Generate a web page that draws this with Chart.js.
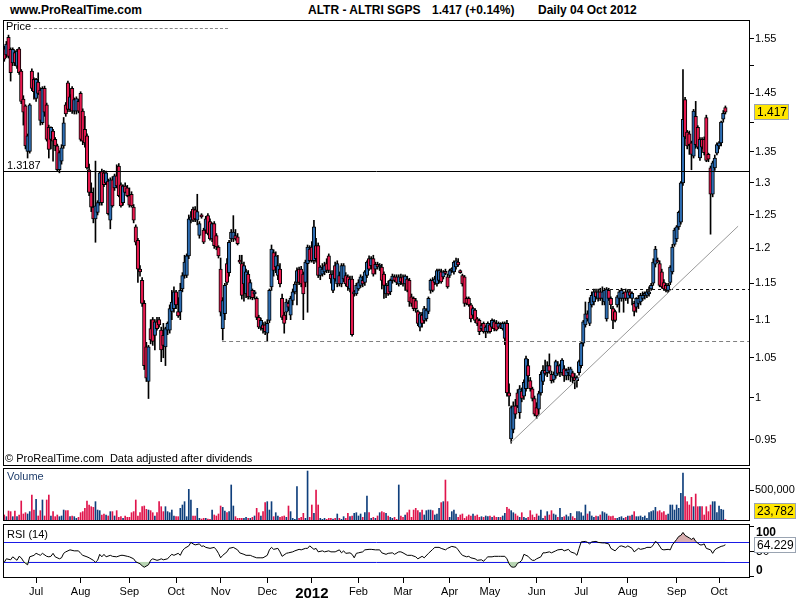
<!DOCTYPE html>
<html><head><meta charset="utf-8">
<script src="https://cdn.jsdelivr.net/npm/chart.js@4.4.0/dist/chart.umd.min.js"></script>
<style>
html,body{margin:0;padding:0;background:#fff;}
#wrap{position:relative;width:800px;height:600px;overflow:hidden;font-family:"Liberation Sans",Arial,sans-serif;}
canvas{position:absolute;left:0;}
.t{position:absolute;white-space:pre;font-size:11px;line-height:13px;color:#000;}
.b{font-weight:bold;font-size:12px;line-height:14px;}
</style></head><body>
<div id="wrap">
<canvas id="cp" width="800" height="446" style="top:20px"></canvas>
<canvas id="cv" width="800" height="53" style="top:468px"></canvas>
<canvas id="cr" width="800" height="76" style="top:524px"></canvas>
<div class="t b" style="left:10px;top:3px">www.ProRealTime.com</div>
<div class="t b" style="left:308px;top:3px" id="tName"></div>
<div class="t b" style="left:432px;top:3px" id="tLast"></div>
<div class="t b" style="left:538px;top:3px" id="tDate"></div>
<div class="t" style="left:6px;top:20px">Price</div>
<div style="position:absolute;left:34px;top:28px;width:194px;border-top:1px dashed #8a8a8a"></div>
<div class="t" style="left:7px;top:159px" id="tSupport"></div>
<div class="t" style="left:5px;top:452px">© ProRealTime.com  Data adjusted after dividends</div>
<div class="t" style="left:7px;top:470px;color:#1f3d6b">Volume</div>
<div class="t" style="left:7px;top:528px">RSI (14)</div>
</div>
<script>
// ---------- DATA ----------
const instrumentName = 'ALTR - ALTRI SGPS';
const periodLabel = 'Daily 04 Oct 2012';
const monthLabels = ['Jul','Aug','Sep','Oct','Nov','Dec','2012','Feb','Mar','Apr','May','Jun','Jul','Aug','Sep','Oct'];
const monthStartBar = [15,36,59,81,102,124,145,167,188,210,229,251,272,294,317,337];
const priceTicks = [0.95,1,1.05,1.1,1.15,1.2,1.25,1.3,1.35,1.4,1.45,1.5,1.55];
const priceTicksUnlabeled = [1.4,1.5];
const volumeTicks = [500000];
const rsiTicks = [0,50,100];
const rsiTickLabels = ['0','50','100'];
const rsiBands = [70,30];
const supportLevel = 1.3187;
const dashedLevelLow = 1.072, dashedLowStartBar = 102.7;
const dashedLevelHigh = 1.142, dashedHighStartBar = 274.3;
const trendStart = [238.5, 0.946], trendEnd = [346, 1.233];

const opens = [
1.531,1.520,1.553,1.530,1.505,1.524,1.499,1.531,1.490,1.440,
1.428,1.351,1.351,1.490,1.475,1.441,1.470,1.456,1.399,1.459,
1.430,1.391,1.371,1.385,1.371,1.360,1.321,1.335,1.360,1.430,
1.469,1.422,1.459,1.419,1.419,1.436,1.450,1.419,1.388,1.377,
1.321,1.285,1.262,1.244,1.254,1.269,1.318,1.316,1.300,1.303,
1.242,1.305,1.292,1.311,1.327,1.297,1.269,1.295,1.292,1.280,
1.282,1.262,1.232,1.212,1.170,1.154,1.122,1.064,1.020,1.088,
1.100,1.079,1.097,1.100,1.086,1.079,1.064,1.086,1.086,1.111,
1.115,1.138,1.111,1.110,1.142,1.161,1.161,1.189,1.242,1.259,
1.258,1.242,1.219,1.250,1.227,1.227,1.249,1.240,1.214,1.237,
1.219,1.202,1.170,1.088,1.108,1.178,1.165,1.214,1.214,1.219,
1.217,1.181,1.178,1.149,1.135,1.163,1.131,1.140,1.135,1.129,
1.103,1.090,1.093,1.093,1.082,1.099,1.145,1.194,1.173,1.161,
1.170,1.129,1.106,1.110,1.122,1.106,1.126,1.138,1.151,1.170,
1.170,1.163,1.151,1.178,1.199,1.202,1.182,1.204,1.204,1.161,
1.163,1.166,1.178,1.189,1.163,1.140,1.175,1.149,1.161,1.149,
1.156,1.161,1.159,1.142,1.156,1.135,1.135,1.142,1.147,1.154,
1.151,1.161,1.185,1.175,1.185,1.170,1.177,1.173,1.173,1.163,
1.135,1.147,1.138,1.154,1.159,1.159,1.149,1.158,1.159,1.149,
1.156,1.154,1.131,1.129,1.126,1.111,1.090,1.106,1.099,1.101,
1.111,1.140,1.154,1.151,1.149,1.154,1.166,1.159,1.166,1.159,
1.161,1.168,1.166,1.173,1.180,1.167,1.161,1.159,1.129,1.129,
1.120,1.106,1.113,1.101,1.099,1.088,1.095,1.084,1.084,1.093,
1.090,1.097,1.095,1.090,1.093,1.088,1.075,1.095,1.006,0.951,
0.962,0.990,1.006,0.982,1.008,1.002,1.011,1.040,1.021,1.011,
0.999,0.988,0.986,1.006,1.020,1.034,1.031,1.040,1.029,1.022,
1.027,1.040,1.031,1.031,1.036,1.027,1.031,1.027,1.031,1.025,
1.021,1.031,1.040,1.069,1.093,1.108,1.095,1.120,1.124,1.138,
1.129,1.138,1.129,1.124,1.101,1.140,1.129,1.115,1.111,1.120,
1.129,1.129,1.129,1.138,1.129,1.138,1.129,1.122,1.117,1.122,
1.124,1.129,1.133,1.133,1.135,1.142,1.150,1.177,1.182,1.178,
1.166,1.151,1.147,1.140,1.151,1.166,1.206,1.214,1.232,1.239,
1.300,1.439,1.383,1.380,1.365,1.343,1.410,1.391,1.340,1.371,
1.371,1.408,1.346,1.324,1.282,1.324,1.348,1.360,1.365,1.405,
1.425];
const highs = [
1.536,1.545,1.557,1.533,1.533,1.528,1.530,1.534,1.493,1.446,
1.430,1.380,1.432,1.494,1.478,1.477,1.487,1.460,1.462,1.463,
1.433,1.395,1.392,1.388,1.374,1.363,1.352,1.362,1.408,1.434,
1.472,1.448,1.462,1.442,1.444,1.440,1.453,1.423,1.410,1.380,
1.330,1.300,1.292,1.335,1.272,1.318,1.322,1.320,1.319,1.306,
1.308,1.310,1.314,1.329,1.331,1.300,1.297,1.300,1.296,1.292,
1.286,1.266,1.235,1.215,1.175,1.158,1.126,1.070,1.066,1.100,
1.103,1.100,1.103,1.103,1.090,1.095,1.090,1.097,1.120,1.140,
1.145,1.140,1.130,1.150,1.165,1.190,1.192,1.250,1.255,1.262,
1.263,1.282,1.240,1.252,1.230,1.248,1.252,1.244,1.238,1.240,
1.222,1.204,1.186,1.130,1.150,1.185,1.212,1.228,1.249,1.228,
1.222,1.190,1.190,1.180,1.170,1.168,1.155,1.142,1.140,1.131,
1.106,1.102,1.096,1.097,1.100,1.142,1.205,1.198,1.195,1.190,
1.178,1.135,1.110,1.128,1.126,1.132,1.142,1.152,1.172,1.173,
1.174,1.166,1.183,1.205,1.204,1.210,1.242,1.215,1.208,1.175,
1.178,1.180,1.185,1.192,1.168,1.168,1.180,1.182,1.166,1.178,
1.178,1.165,1.162,1.160,1.160,1.140,1.150,1.155,1.162,1.160,
1.168,1.182,1.189,1.188,1.190,1.180,1.180,1.178,1.177,1.166,
1.150,1.153,1.156,1.163,1.162,1.162,1.162,1.163,1.162,1.162,
1.160,1.157,1.135,1.131,1.129,1.113,1.110,1.110,1.118,1.115,
1.131,1.156,1.158,1.160,1.170,1.170,1.170,1.168,1.170,1.163,
1.170,1.172,1.182,1.186,1.185,1.169,1.163,1.161,1.131,1.131,
1.122,1.117,1.115,1.103,1.101,1.095,1.097,1.092,1.097,1.095,
1.101,1.100,1.099,1.097,1.096,1.097,1.097,1.099,1.017,0.990,
0.995,0.998,1.010,1.015,1.012,1.022,1.052,1.048,1.025,1.013,
1.002,0.994,1.008,1.032,1.040,1.047,1.045,1.055,1.033,1.032,
1.047,1.045,1.042,1.049,1.040,1.036,1.038,1.038,1.033,1.030,
1.027,1.047,1.071,1.099,1.124,1.112,1.130,1.138,1.142,1.142,
1.142,1.143,1.145,1.143,1.144,1.143,1.131,1.118,1.113,1.133,
1.140,1.143,1.138,1.142,1.141,1.141,1.138,1.125,1.130,1.133,
1.136,1.138,1.138,1.140,1.145,1.150,1.185,1.203,1.186,1.182,
1.170,1.155,1.150,1.150,1.175,1.206,1.230,1.234,1.256,1.302,
1.493,1.443,1.386,1.385,1.368,1.422,1.436,1.394,1.374,1.374,
1.375,1.412,1.348,1.327,1.335,1.345,1.365,1.367,1.402,1.420,
1.428];
const lows = [
1.508,1.515,1.514,1.472,1.500,1.500,1.495,1.484,1.432,1.395,
1.355,1.340,1.348,1.455,1.440,1.436,1.448,1.395,1.396,1.410,
1.368,1.340,1.355,1.335,1.352,1.318,1.316,1.330,1.356,1.410,
1.418,1.418,1.415,1.414,1.414,1.416,1.368,1.362,1.358,1.322,
1.280,1.255,1.238,1.209,1.250,1.265,1.265,1.294,1.297,1.250,
1.229,1.262,1.288,1.292,1.278,1.262,1.265,1.284,1.278,1.262,
1.262,1.238,1.205,1.151,1.160,1.118,1.035,1.020,0.999,1.068,
1.066,1.060,1.086,1.090,1.045,1.050,1.040,1.080,1.082,1.100,
1.110,1.115,1.103,1.100,1.138,1.157,1.158,1.185,1.238,1.240,
1.240,1.235,1.215,1.245,1.207,1.222,1.220,1.212,1.210,1.200,
1.198,1.186,1.105,1.073,1.100,1.148,1.160,1.210,1.210,1.212,
1.205,1.178,1.128,1.125,1.130,1.128,1.128,1.127,1.128,1.100,
1.088,1.086,1.082,1.080,1.071,1.096,1.140,1.160,1.165,1.155,
1.145,1.100,1.082,1.100,1.112,1.100,1.120,1.135,1.120,1.148,
1.145,1.100,1.145,1.110,1.180,1.180,1.178,1.180,1.158,1.155,
1.160,1.162,1.165,1.165,1.150,1.137,1.153,1.145,1.146,1.145,
1.152,1.146,1.140,1.138,1.078,1.132,1.133,1.140,1.144,1.145,
1.147,1.158,1.168,1.170,1.160,1.163,1.170,1.168,1.142,1.129,
1.130,1.133,1.134,1.150,1.152,1.148,1.146,1.148,1.146,1.140,
1.138,1.118,1.118,1.112,1.110,1.092,1.085,1.090,1.095,1.098,
1.108,1.136,1.138,1.148,1.146,1.150,1.150,1.156,1.162,1.143,
1.158,1.165,1.163,1.170,1.174,1.164,1.146,1.118,1.120,1.118,
1.097,1.103,1.096,1.092,1.080,1.085,1.082,1.076,1.082,1.082,
1.088,1.085,1.085,1.088,1.088,1.086,1.067,1.002,0.990,0.946,
0.958,0.975,0.988,0.975,0.995,0.998,1.008,1.020,1.008,0.996,
0.978,0.975,0.980,1.003,1.016,1.028,1.026,1.030,1.018,1.019,
1.024,1.028,1.026,1.028,1.020,1.022,1.022,1.020,1.018,1.011,
1.013,1.028,1.037,1.065,1.090,1.098,1.092,1.117,1.120,1.128,
1.125,1.126,1.120,1.120,1.098,1.126,1.115,1.088,1.097,1.117,
1.110,1.125,1.110,1.126,1.122,1.130,1.120,1.105,1.110,1.115,
1.120,1.126,1.128,1.130,1.132,1.140,1.147,1.173,1.179,1.145,
1.143,1.140,1.138,1.137,1.148,1.163,1.203,1.210,1.228,1.236,
1.296,1.372,1.355,1.346,1.321,1.340,1.356,1.355,1.336,1.355,
1.345,1.334,1.334,1.221,1.278,1.320,1.345,1.355,1.360,1.400,
1.414];
const closes = [
1.512,1.540,1.517,1.487,1.530,1.505,1.527,1.487,1.436,1.417,
1.360,1.377,1.430,1.459,1.453,1.475,1.450,1.403,1.459,1.417,
1.371,1.354,1.391,1.368,1.360,1.321,1.349,1.357,1.399,1.414,
1.422,1.444,1.419,1.439,1.441,1.419,1.371,1.368,1.365,1.324,
1.285,1.262,1.244,1.264,1.269,1.316,1.269,1.297,1.316,1.252,
1.305,1.264,1.311,1.295,1.280,1.264,1.295,1.285,1.280,1.265,
1.264,1.242,1.209,1.170,1.166,1.122,1.040,1.024,1.064,1.073,
1.071,1.097,1.088,1.093,1.060,1.066,1.088,1.095,1.115,1.124,
1.138,1.120,1.105,1.140,1.161,1.180,1.189,1.244,1.247,1.242,
1.244,1.255,1.237,1.247,1.209,1.244,1.222,1.214,1.237,1.204,
1.202,1.189,1.110,1.126,1.147,1.151,1.209,1.224,1.224,1.214,
1.207,1.180,1.133,1.175,1.166,1.131,1.151,1.130,1.138,1.103,
1.090,1.099,1.088,1.084,1.095,1.140,1.199,1.168,1.189,1.175,
1.149,1.103,1.095,1.124,1.117,1.129,1.138,1.149,1.168,1.151,
1.149,1.135,1.180,1.202,1.182,1.182,1.232,1.185,1.161,1.173,
1.170,1.175,1.168,1.168,1.156,1.163,1.156,1.178,1.149,1.175,
1.175,1.149,1.145,1.156,1.080,1.138,1.147,1.151,1.159,1.149,
1.166,1.180,1.170,1.185,1.163,1.177,1.173,1.175,1.154,1.147,
1.147,1.135,1.154,1.160,1.154,1.151,1.159,1.152,1.149,1.160,
1.140,1.124,1.122,1.115,1.115,1.095,1.108,1.095,1.115,1.113,
1.129,1.154,1.140,1.156,1.168,1.168,1.152,1.166,1.164,1.145,
1.168,1.170,1.180,1.182,1.176,1.165,1.149,1.122,1.122,1.120,
1.101,1.115,1.099,1.095,1.084,1.092,1.084,1.090,1.095,1.084,
1.099,1.088,1.086,1.095,1.090,1.095,1.095,1.006,1.002,0.988,
0.990,0.980,0.990,1.011,0.999,1.019,1.049,1.027,1.011,0.999,
0.980,0.978,1.005,1.029,1.034,1.030,1.040,1.033,1.021,1.029,
1.045,1.030,1.040,1.047,1.027,1.034,1.035,1.036,1.025,1.021,
1.025,1.045,1.069,1.097,1.108,1.101,1.124,1.133,1.138,1.131,
1.138,1.129,1.138,1.140,1.142,1.129,1.120,1.099,1.099,1.131,
1.138,1.140,1.136,1.129,1.138,1.133,1.136,1.111,1.129,1.129,
1.133,1.133,1.135,1.138,1.138,1.147,1.180,1.199,1.180,1.147,
1.145,1.142,1.140,1.147,1.173,1.202,1.227,1.232,1.254,1.300,
1.405,1.375,1.360,1.362,1.346,1.419,1.362,1.358,1.371,1.358,
1.349,1.336,1.338,1.282,1.332,1.340,1.362,1.365,1.400,1.415,
1.417];
const volumes = [
97000,70000,161000,151000,70000,161000,70000,97000,323000,113000,
134000,113000,151000,419000,177000,349000,81000,167000,339000,81000,
339000,419000,81000,151000,70000,97000,70000,81000,177000,167000,
167000,70000,81000,70000,43000,59000,134000,151000,204000,323000,
258000,231000,220000,312000,177000,167000,97000,113000,97000,81000,
151000,151000,81000,167000,59000,70000,43000,81000,59000,59000,
134000,151000,339000,81000,134000,231000,242000,188000,177000,167000,
134000,81000,134000,312000,231000,151000,231000,151000,134000,177000,
81000,70000,70000,204000,258000,312000,70000,511000,339000,81000,
81000,204000,43000,32000,43000,43000,32000,27000,177000,97000,
81000,113000,242000,220000,161000,134000,151000,581000,242000,70000,
43000,43000,43000,43000,59000,43000,43000,59000,81000,204000,
134000,81000,151000,296000,312000,177000,312000,70000,134000,81000,
59000,70000,81000,59000,242000,151000,43000,27000,554000,43000,
59000,124000,43000,806000,59000,258000,124000,500000,258000,43000,
27000,43000,27000,43000,43000,32000,43000,113000,43000,27000,
70000,43000,124000,70000,81000,124000,134000,81000,113000,59000,
134000,403000,134000,43000,59000,43000,81000,134000,151000,134000,
124000,81000,59000,43000,59000,27000,581000,
81000,59000,97000,134000,177000,59000,177000,204000,167000,134000,
177000,97000,167000,177000,177000,167000,97000,113000,204000,296000,
312000,661000,312000,59000,151000,177000,113000,59000,97000,113000,
43000,70000,97000,81000,113000,81000,97000,59000,70000,59000,
81000,70000,81000,59000,81000,59000,59000,59000,81000,124000,
220000,194000,167000,134000,113000,81000,59000,134000,59000,43000,
59000,167000,97000,59000,113000,81000,177000,43000,81000,151000,
97000,167000,113000,97000,59000,204000,59000,70000,97000,70000,
124000,70000,43000,151000,151000,134000,81000,258000,113000,151000,
81000,59000,81000,70000,97000,151000,134000,113000,81000,70000,
81000,43000,43000,59000,70000,43000,59000,81000,81000,97000,
151000,70000,70000,81000,59000,81000,43000,134000,151000,167000,
220000,151000,167000,134000,151000,97000,113000,258000,258000,177000,
258000,204000,446000,774000,392000,312000,258000,382000,231000,435000,
231000,231000,231000,97000,231000,151000,258000,312000,312000,134000,
242000,188000,177000,23782];
const rsiBars = [
0,1,3,4,6,7,8,9,10,11,12,14,15,16,17,18,20,21,22,23,24,26,27,28,29,31,33,35,36,37,
39,40,42,43,44,45,46,47,48,50,51,53,55,56,58,59,61,62,64,65,66,68,69,70,72,73,74,75,77,78,
79,80,82,83,84,85,87,88,89,90,92,93,94,95,97,99,100,101,102,103,105,106,108,110,111,113,114,116,117,119,
121,122,124,125,126,127,129,130,131,133,134,136,137,139,140,142,143,144,146,147,148,150,151,153,154,156,158,159,160,161,
163,164,165,166,167,169,170,172,173,175,177,178,180,181,183,184,186,
187,188,190,192,194,195,197,198,200,202,203,205,206,208,209,211,213,214,215,216,218,219,220,222,223,225,226,227,228,230,
231,233,234,236,237,238,239,240,241,242,243,244,245,247,248,249,250,251,253,254,255,257,258,260,261,263,264,266,267,269,
270,271,272,274,275,276,277,279,280,282,283,285,286,288,290,291,293,294,296,297,299,300,302,303,305,306,307,308,310,311,
313,314,315,317,318,319,320,321,323,324,325,326,328,329,330,331,333,334,335,336,338,339,340];
const rsiValues = [
29,36,34,40,33,41,38,31,27,24,40,43,47,45,43,47,41,40,41,47,40,36,38,47,50,54,52,52,47,43,
40,38,33,29,33,45,40,45,40,43,41,40,43,43,41,40,36,30,26,22,19,24,33,36,33,34,36,34,36,41,
45,43,47,43,52,57,62,69,66,64,66,61,62,59,57,59,54,47,38,43,50,57,59,54,48,45,43,43,41,38,
38,38,43,54,59,55,57,50,41,47,48,50,52,55,54,57,57,62,55,57,50,52,50,52,50,50,54,48,52,47,
48,45,38,47,48,50,54,55,55,54,54,48,45,47,48,45,50,
50,48,43,43,40,36,41,38,47,55,59,59,57,54,57,61,59,54,48,43,40,41,38,36,33,34,31,36,40,40,
41,41,41,41,36,26,20,19,20,27,29,33,45,41,36,33,33,36,40,48,48,50,48,52,54,55,52,55,50,47,
43,57,70,71,69,66,70,71,69,68,68,66,57,52,61,62,59,62,57,50,57,55,57,59,59,64,71,68,55,54,
55,54,64,75,81,83,89,83,78,75,78,71,64,64,66,57,54,47,54,57,61,62,64.229];

// ---------- DRAWING ----------
const FONT = '"Liberation Sans", Arial, sans-serif';
Chart.defaults.font.family = FONT;
Chart.defaults.color = '#000';
const RED = '#e8194f', BLUE = '#2d6db3', VRED = '#e0144c', VBLUE = '#0f3f7c';
const X_MIN = -0.6, X_MAX = 351.6;
const idx = closes.map((_, i) => i);
const isUp = idx.map(i => closes[i] >= opens[i]);

const lastClose = closes[closes.length - 1], prevClose = closes[closes.length - 2];
document.getElementById('tName').textContent = instrumentName;
document.getElementById('tLast').textContent = lastClose.toFixed(3) + ' (' + (lastClose >= prevClose ? '+' : '') + ((lastClose / prevClose - 1) * 100).toFixed(2) + '%)';
document.getElementById('tDate').textContent = periodLabel;
document.getElementById('tSupport').textContent = String(supportLevel);

function frame(chart) {
  const {ctx, chartArea: a} = chart;
  ctx.save(); ctx.strokeStyle = '#000'; ctx.lineWidth = 1; ctx.setLineDash([]);
  ctx.strokeRect(Math.round(a.left) + 0.5, Math.round(a.top) + 0.5, Math.round(a.right - a.left) - 1, Math.round(a.bottom - a.top) - 1);
  ctx.restore();
}
function valueBox(chart, text, value, fill, minOff, maxOff) {
  const {ctx, chartArea: a} = chart;
  let y = chart.scales.y.getPixelForValue(value);
  y = Math.min(Math.max(y, a.top + minOff), a.bottom - maxOff);
  ctx.save();
  ctx.font = '12px ' + FONT;
  const w = Math.round(ctx.measureText(text).width + 5);
  const top = Math.round(y - 8);
  ctx.fillStyle = fill; ctx.fillRect(a.right + 4, top, w, 16);
  ctx.strokeStyle = '#9aa4b2'; ctx.lineWidth = 1; ctx.strokeRect(a.right + 4.5, top + 0.5, w - 1, 15);
  ctx.fillStyle = '#000'; ctx.textBaseline = 'middle'; ctx.fillText(text, a.right + 7, top + 8.5);
  ctx.restore();
}
const yAxisFit = s => { s.width = 50; s.paddingTop = 0; s.paddingBottom = 0; };
const tickGrid = {drawOnChartArea: false, drawTicks: true, tickLength: 4, color: '#000', tickColor: '#000'};

// Price panel
const pricePlugin = {
  id: 'priceDeco',
  afterDatasetsDraw(chart) {
    const {ctx, chartArea: a, scales: {x, y}} = chart;
    ctx.save(); ctx.lineWidth = 1;
    const ys = Math.round(y.getPixelForValue(supportLevel)) + 0.5;
    ctx.strokeStyle = '#000'; ctx.beginPath(); ctx.moveTo(a.left, ys); ctx.lineTo(a.right, ys); ctx.stroke();
    const yl = Math.round(y.getPixelForValue(dashedLevelLow)) + 0.5;
    ctx.strokeStyle = '#808080'; ctx.setLineDash([4, 3]);
    ctx.beginPath(); ctx.moveTo(x.getPixelForValue(dashedLowStartBar), yl); ctx.lineTo(a.right, yl); ctx.stroke();
    const yh = Math.round(y.getPixelForValue(dashedLevelHigh)) + 0.5;
    ctx.strokeStyle = '#111'; ctx.setLineDash([3, 3]);
    ctx.beginPath(); ctx.moveTo(x.getPixelForValue(dashedHighStartBar), yh); ctx.lineTo(a.right, yh); ctx.stroke();
    ctx.setLineDash([]); ctx.strokeStyle = '#999';
    ctx.beginPath(); ctx.moveTo(x.getPixelForValue(trendStart[0]), y.getPixelForValue(trendStart[1]));
    ctx.lineTo(x.getPixelForValue(trendEnd[0]), y.getPixelForValue(trendEnd[1])); ctx.stroke();
    ctx.restore();
  },
  afterDraw(chart) {
    frame(chart);
    valueBox(chart, lastClose.toFixed(3), lastClose, '#ffe600', 8, 8);
  }
};
new Chart(document.getElementById('cp'), {
  type: 'bar',
  data: {datasets: [
    {data: idx.map(i => ({x: i, y: [opens[i], closes[i]]})),
     backgroundColor: idx.map(i => isUp[i] ? BLUE : RED), borderColor: '#000', borderWidth: 1,
     borderSkipped: false, barThickness: 3.5, minBarLength: 2, grouped: false},
    {data: idx.map(i => ({x: i, y: [lows[i], highs[i]]})),
     backgroundColor: '#000', borderWidth: 0, barThickness: 1, grouped: false}
  ]},
  options: {
    responsive: false, animation: false, devicePixelRatio: 1,
    layout: {padding: {left: 3, right: 0, top: 0, bottom: 0}},
    plugins: {legend: {display: false}, tooltip: {enabled: false}},
    scales: {
      x: {type: 'linear', min: X_MIN, max: X_MAX, offset: false, display: false},
      y: {type: 'logarithmic', position: 'right', min: 0.92, max: 1.586,
          afterBuildTicks: s => { s.ticks = priceTicks.map(v => ({value: v})); },
          afterFit: yAxisFit, grid: tickGrid, border: {display: false},
          ticks: {padding: 1, color: '#000', font: {size: 11, family: FONT},
                  callback: v => priceTicksUnlabeled.includes(v) ? '' : String(+(+v).toFixed(2))}}
    }
  },
  plugins: [pricePlugin]
});

// Volume panel
new Chart(document.getElementById('cv'), {
  type: 'bar',
  data: {datasets: [{data: idx.map(i => ({x: i, y: volumes[i]})),
    backgroundColor: idx.map(i => isUp[i] ? VBLUE : VRED), borderWidth: 0, barThickness: 1}]},
  options: {
    responsive: false, animation: false, devicePixelRatio: 1,
    layout: {padding: {left: 3, right: 0, top: 0, bottom: 0}},
    plugins: {legend: {display: false}, tooltip: {enabled: false}},
    scales: {
      x: {type: 'linear', min: X_MIN, max: X_MAX, offset: false, display: false},
      y: {type: 'linear', position: 'right', min: 0, max: 855000,
          afterBuildTicks: s => { s.ticks = volumeTicks.map(v => ({value: v})); },
          afterFit: yAxisFit, grid: tickGrid, border: {display: false},
          ticks: {padding: 1, color: '#000', font: {size: 11, family: FONT},
                  callback: v => Number(v).toLocaleString('en-US')}}
    }
  },
  plugins: [{id: 'volDeco', afterDraw(chart) {
    frame(chart);
    const lastVol = volumes[volumes.length - 1];
    valueBox(chart, lastVol.toLocaleString('en-US'), lastVol, '#ffe600', 8, 10);
  }}]
});

// RSI panel
const rsiPoints = rsiBars.map((b, k) => ({x: b, y: rsiValues[k]}));
new Chart(document.getElementById('cr'), {
  type: 'line',
  data: {datasets: [
    {data: rsiPoints, borderColor: '#000', borderWidth: 1, pointRadius: 0, tension: 0,
     fill: {target: {value: rsiBands[0]}, above: '#d8aeb0', below: 'rgba(0,0,0,0)'}},
    {data: rsiPoints, borderColor: 'rgba(0,0,0,0)', borderWidth: 0, pointRadius: 0, tension: 0,
     fill: {target: {value: rsiBands[1]}, above: 'rgba(0,0,0,0)', below: '#b7d5b2'}}
  ]},
  options: {
    responsive: false, animation: false, devicePixelRatio: 1,
    layout: {padding: {left: 3, right: 0, top: 0, bottom: 0}},
    plugins: {legend: {display: false}, tooltip: {enabled: false}},
    scales: {
      x: {type: 'linear', position: 'bottom', min: X_MIN, max: X_MAX, offset: false,
          afterBuildTicks: s => { s.ticks = monthStartBar.map(v => ({value: v})); },
          afterFit: s => { s.height = 22; s.paddingLeft = 0; s.paddingRight = 0; },
          grid: {drawOnChartArea: false, drawTicks: true, tickLength: 5, color: '#000', tickColor: '#000'},
          border: {display: false},
          ticks: {autoSkip: false, maxRotation: 0, minRotation: 0, padding: 2, color: '#000',
                  font: c => (c.tick && c.tick.label === '2012') ? {family: FONT, size: 15, weight: 'bold'} : {family: FONT, size: 11},
                  callback: v => monthLabels[monthStartBar.indexOf(v)]}},
      y: {type: 'linear', position: 'right', min: -2.6, max: 106,
          afterBuildTicks: s => { s.ticks = rsiTicks.map(v => ({value: v})); },
          afterFit: yAxisFit, grid: tickGrid, border: {display: false},
          ticks: {callback: () => ''}}
    }
  },
  plugins: [{id: 'rsiDeco',
    beforeDatasetsDraw(chart) {
      const {ctx, chartArea: a, scales: {y}} = chart;
      ctx.save(); ctx.strokeStyle = '#1a1ae6'; ctx.lineWidth = 1;
      rsiBands.forEach(v => { const py = Math.round(y.getPixelForValue(v)) + 0.5;
        ctx.beginPath(); ctx.moveTo(a.left, py); ctx.lineTo(a.right, py); ctx.stroke(); });
      ctx.restore();
    },
    afterDraw(chart) {
      const {ctx, chartArea: a, scales: {y}} = chart;
      frame(chart);
      ctx.save(); ctx.fillStyle = '#000'; ctx.textBaseline = 'middle';
      rsiTicks.forEach((v, k) => {
        let py = y.getPixelForValue(v);
        py = Math.min(Math.max(py, a.top + 9), a.bottom - 7);
        ctx.font = (v === 50 ? '' : 'bold ') + '12px ' + FONT;
        ctx.fillText(rsiTickLabels[k], a.right + 6, py);
      });
      ctx.restore();
      const lastRsi = rsiValues[rsiValues.length - 1];
      valueBox(chart, lastRsi.toFixed(3), lastRsi, '#ffffff', 8, 8);
    }
  }]
});
</script>
</body></html>
